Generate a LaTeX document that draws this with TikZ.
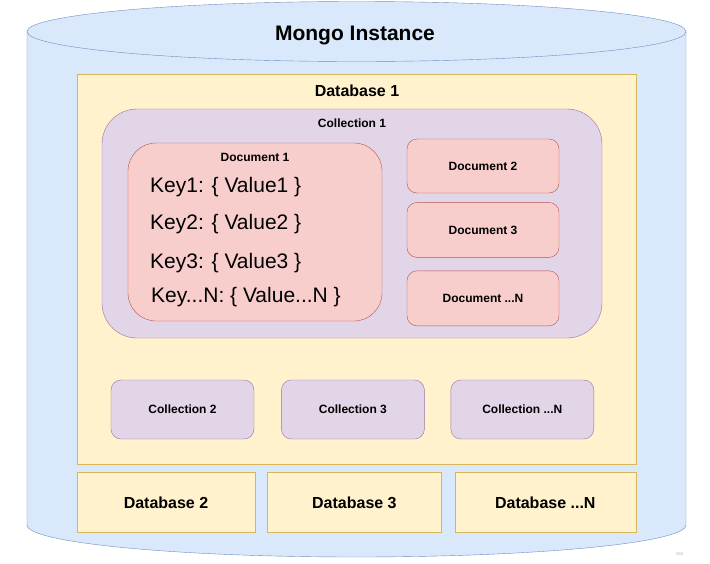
\documentclass[tikz,border=0pt]{standalone}
\usepackage{fontspec}
\setmainfont{Liberation Sans}
\usetikzlibrary{positioning}
\definecolor{instfill}{HTML}{DAE8FC}
\definecolor{instline}{HTML}{6C8EBF}
\definecolor{dbfill}{HTML}{FFF2CC}
\definecolor{dbline}{HTML}{D6B656}
\definecolor{colfill}{HTML}{E1D5E7}
\definecolor{colline}{HTML}{9673A6}
\definecolor{docfill}{HTML}{F8CECC}
\definecolor{docline}{HTML}{B85450}
\begin{document}
\begin{tikzpicture}[
            x=1pt, y=-1pt,
            big/.style={font=\bfseries\fontsize{16}{19}\selectfont},
            small/.style={font=\bfseries\fontsize{12}{14}\selectfont},
            dbbox/.style={draw=dbline, fill=dbfill, minimum height=60pt, big},
            collbox/.style={draw=colline, fill=colfill, rounded corners=10pt, minimum width=143pt, minimum height=59pt, small},
            docbox/.style={draw=docline, fill=docfill, rounded corners=10pt, minimum width=152pt, minimum height=55pt, small},
            keyval/.style={anchor=west, inner sep=0pt, font=\fontsize{21}{25}\selectfont}
        ]
            \useasboundingbox (0,0) rectangle (710,563);

            % instance cylinder
            \fill[instfill] (27,31) -- (27,525) arc[start angle=180, end angle=360, x radius=329.5pt, y radius=32pt] -- (686,31) -- cycle;
            \draw[instline] (27,31) -- (27,525) arc[start angle=180, end angle=360, x radius=329.5pt, y radius=32pt] -- (686,31);
            \draw[instline, fill=instfill] (356.5,31.5) ellipse[x radius=329.5pt, y radius=30pt];
            \node[font=\bfseries\fontsize{21}{25}\selectfont] (inst) at (355,35.5) {Mongo Instance};

            % database 1
            \node[draw=dbline, fill=dbfill, minimum width=559pt, minimum height=390pt] (db1) at (356.5,269) {};
            \node[big] (db1title) at (357,91) {Database 1};

            \node[draw=colline, fill=colfill, rounded corners=35pt, minimum width=500pt, minimum height=229pt] (coll1) at (352,223.5) {};
            \node[small] (coll1title) at (352,123) {Collection 1};

            \node[draw=docline, fill=docfill, rounded corners=28pt, minimum width=254pt, minimum height=178pt] (doc1) at (255,232) {};
            \node[small] (doc1title) at (255,157) {Document 1};
            \node[keyval] (kv1) at (150,187.5) {Key1: \{ Value1 \}};
            \node[keyval] (kv2) at (150,224.5) {Key2: \{ Value2 \}};
            \node[keyval] (kv3) at (150,263.5) {Key3: \{ Value3 \}};
            \node[keyval] (kvn) at (151,297.5) {Key...N: \{ Value...N \}};

            \node[docbox, minimum height=54pt] (doc2) at (483,166) {Document 2};
            \node[docbox, below=9pt of doc2] (doc3) {Document 3};
            \node[docbox, below=13pt of doc3] (docn) {Document ...N};

            \node[collbox] (coll2) at (182.5,409.5) {Collection 2};
            \node[collbox, right=27pt of coll2] (coll3) {Collection 3};
            \node[collbox, right=26pt of coll3] (colln) {Collection ...N};

            % other databases
            \node[dbbox, minimum width=178pt] (db2) at (166,502.5) {Database 2};
            \node[dbbox, minimum width=174pt, right=12pt of db2] (db3) {Database 3};
            \node[dbbox, minimum width=181pt, right=13pt of db3] (dbn) {Database ...N};

            \node[font=\fontsize{4}{5}\selectfont, text=colline!70] (idg) at (680,554) {IDG};

        \end{tikzpicture}
\end{document}
